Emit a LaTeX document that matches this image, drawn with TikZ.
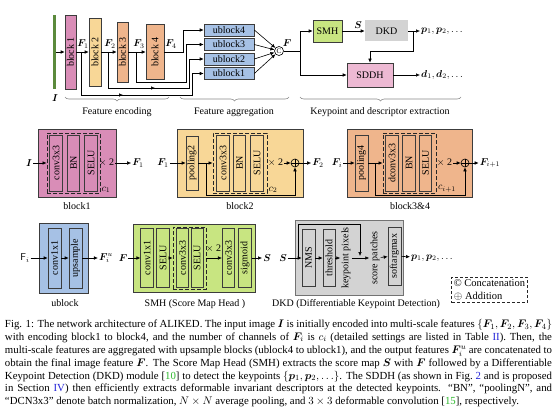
\documentclass[tikz,border=0pt]{standalone}
\usepackage{amsmath,amssymb,bm}
\usepackage{fontspec}
\setmainfont{Liberation Serif}
\usetikzlibrary{arrows.meta,positioning,calc,decorations.pathreplacing,decorations.markings}
\definecolor{edge}{HTML}{3C3C3C}
\definecolor{imggreen}{HTML}{5B8A3C}
\definecolor{pinkblk}{HTML}{D98DB7}
\definecolor{yelblk}{HTML}{F8D797}
\definecolor{orgblk}{HTML}{EFB58C}
\definecolor{ublue}{HTML}{A6C1E5}
\definecolor{smhgreen}{HTML}{C8E581}
\definecolor{dkdgray}{HTML}{D3D3D3}
\definecolor{sddhpink}{HTML}{EDB9D3}
\definecolor{bracegray}{HTML}{8A8A8A}
\definecolor{refgreen}{HTML}{2DB82D}
\definecolor{refblue}{HTML}{2424D8}
\tikzset{
  blk/.style={draw=edge, line width=.6pt, inner sep=0pt, font=\fontsize{10}{11}\selectfont},
  venc/.style={blk, rotate=90},
  ubox/.style={blk, fill=ublue, minimum width=50pt, minimum height=12pt},
  outer/.style={draw=edge, line width=.7pt, inner sep=0pt},
  layer/.style={blk, rotate=90, minimum width=56pt, minimum height=12.5pt},
  dashbox/.style={draw=black!85, dash pattern=on 4pt off 2pt, line width=.9pt, inner sep=0pt},
  arr/.style={-{Latex[length=4pt,width=3.6pt]}, line width=.6pt, draw=black},
  wire/.style={line width=.6pt, draw=black},
  midarr/.style={postaction={decorate}, decoration={markings,
      mark=at position #1 with {\arrow{Latex[length=4pt,width=3.6pt]}}}},
  lbl/.style={font=\fontsize{10}{11}\selectfont, inner sep=1pt},
  vlbl/.style={lbl, rotate=90},
  brc/.style={draw=bracegray, line width=.6pt, decorate, decoration={brace, mirror, amplitude=4pt}},
  addop/.style={circle, draw, line width=.6pt, minimum size=8pt, inner sep=0pt},
  legend/.style={draw=black!85, densely dashed, line width=.8pt, align=left,
                 font=\fontsize{10.5}{13.5}\selectfont, inner sep=2pt},
  capt/.style={text width=547pt, align=justify, inner sep=0pt,
               font=\fontsize{10.8}{12.9}\selectfont}
}

\begin{document}
\begin{tikzpicture}[x=1pt, y=-1pt]
  \useasboundingbox[fill=white] (0,0) rectangle (559,412);

  % overview: encoder, aggregation, heads
  \node[fill=imggreen, minimum width=3pt, minimum height=73pt, inner sep=0pt] (img) at (54.5,52) {};
  \node[lbl] (ilbl) at (55,98) {$\boldsymbol{I}$};
  \node[venc, fill=pinkblk, minimum width=74pt, minimum height=11pt] (blk1) at (70.5,52) {block 1};
  \node[venc, fill=yelblk, minimum width=68pt, minimum height=12pt] (blk2) at (95,52) {block 2};
  \node[venc, fill=orgblk, minimum width=60pt, minimum height=11pt] (blk3) at (122.5,52) {block 3};
  \node[venc, fill=orgblk, minimum width=55pt, minimum height=18pt] (blk4) at (155,52) {block 4};
  \node[lbl] (fa) at (83,44) {$\boldsymbol{F}_{1}$};
  \node[lbl] (fb) at (110,44) {$\boldsymbol{F}_{2}$};
  \node[lbl] (fc) at (139,44) {$\boldsymbol{F}_{3}$};
  \node[lbl] (fd) at (171,44) {$\boldsymbol{F}_{4}$};

  \node[ubox] (ub4) at (229,30) {ublock4};
  \node[ubox] (ub3) at (229,44.5) {ublock3};
  \node[ubox] (ub2) at (229,59) {ublock2};
  \node[ubox] (ub1) at (229,73.5) {ublock1};
  \node[addop, minimum size=9pt, font=\fontsize{7}{7}\selectfont] (cat) at (279,51) {C};
  \node[lbl] (flbl) at (287,43) {$\boldsymbol{F}$};
  \coordinate (fsplit) at (300,51);

  \node[blk, fill=smhgreen, minimum width=29pt, minimum height=22pt] (smh) at (327.5,31) {SMH};
  \node[blk, draw=none, fill=dkdgray, minimum width=43pt, minimum height=21pt] (dkd) at (386.5,31) {DKD};
  \node[blk, fill=sddhpink, minimum width=46pt, minimum height=24pt] (sddh) at (370,75) {SDDH};
  \node[lbl] (slbl) at (358,25) {$\boldsymbol{S}$};
  \node[lbl, anchor=west] (pout) at (420,31) {$\boldsymbol{p}_1, \boldsymbol{p}_2, \ldots$};
  \node[lbl, anchor=west] (dout) at (420,75) {$\boldsymbol{d}_1, \boldsymbol{d}_2, \ldots$};
  \coordinate (kp) at (413,31);

  \draw[arr] (img) -- (blk1);
  \draw[arr] (blk1) -- (blk2);
  \draw[arr] (blk2) -- (blk3);
  \draw[arr] (blk3) -- (blk4);
  \coordinate (f1) at (81,52);
  \coordinate (f2) at (108,52);
  \coordinate (f3) at (136,52);
  \draw[arr, midarr=85pt] (f1) |- ($(ub1.west)+(-11,21.5)$) |- (ub1.west);
  \draw[arr, midarr=83pt] (f2) |- ($(ub2.west)+(-14,29)$) |- (ub2.west);
  \draw[arr] (f3) |- ($(ub3.west)+(-17,37.5)$) |- (ub3.west);
  \draw[arr] (blk4.south) -| ($(ub4.west)+(-20,0)$) -- (ub4.west);
  \foreach \k in {1,...,4} \draw[arr] (ub\k.east) -- (cat);
  \draw[wire] (cat) -- (fsplit);
  \draw[arr] (fsplit) |- (smh);
  \draw[arr] (fsplit) |- (sddh);
  \draw[arr] (smh) -- (dkd);
  \draw[arr] (dkd) -- (pout);
  \draw[arr] (kp) |- ($(sddh.north)+(0,-11)$) -- (sddh.north);
  \draw[arr] (sddh) -- (dout);

  \draw[brc] (65,97) -- (169,97);
  \draw[brc] (180,97) -- (289,97);
  \draw[brc] (300,97) -- (461,97);
  \node[lbl] (grp1) at (117,112) {Feature encoding};
  \node[lbl] (grp2) at (234,112) {Feature aggregation};
  \node[lbl] (grp3) at (380,112) {Keypoint and descriptor extraction};

  % block1
  \node[outer, fill=pinkblk, minimum width=78pt, minimum height=68pt] (blk1d) at (77,163) {};
  \node[dashbox, minimum width=53pt, minimum height=60pt] (dsh1) at (73.5,163) {};
  \node[layer, fill=pinkblk] (cv1) at (56,163) {conv3x3};
  \node[layer, fill=pinkblk] (bn1) at (73.5,163) {BN};
  \node[layer, fill=pinkblk] (sl1) at (91,163) {SELU};
  \node[lbl] (tw1) at (106.5,163) {$\times$ 2};
  \node[lbl] (ch1) at (106,190) {$c_1$};
  \node[lbl] (in1) at (29,163) {$\boldsymbol{I}$};
  \node[lbl] (f1o) at (138,163) {$\boldsymbol{F}_1$};
  \node[lbl] (cap1) at (77,206) {block1};
  \draw[arr] (in1) -- (dsh1);
  \draw[arr] (tw1) -- (f1o);

  % block2
  \node[outer, fill=yelblk, minimum width=126pt, minimum height=68pt] (blk2d) at (240,163) {};
  \node[layer, fill=yelblk, minimum width=54pt, minimum height=12pt] (pl2) at (192,163) {pooling2};
  \node[dashbox, minimum width=54pt, minimum height=60pt] (dsh2) at (240,163) {};
  \node[layer, fill=yelblk] (cv2) at (223,163) {conv3x3};
  \node[layer, fill=yelblk] (bn2) at (239.5,163) {BN};
  \node[layer, fill=yelblk] (sl2) at (257,163) {SELU};
  \node[lbl] (tw2) at (275.5,163) {$\times$ 2};
  \node[lbl] (ch2) at (273,190) {$c_2$};
  \node[addop] (add2) at (295,163) {};
  \draw[line width=.6pt] (add2.north) -- (add2.south) (add2.west) -- (add2.east);
  \node[lbl] (in2) at (163,163) {$\boldsymbol{F}_1$};
  \node[lbl] (f2o) at (318,163) {$\boldsymbol{F}_2$};
  \node[lbl] (cap2) at (240,206) {block2};
  \coordinate (r2) at (206,163);
  \draw[arr] (in2) -- (pl2);
  \draw[arr] (pl2) -- (dsh2);
  \draw[arr] (r2) |- ($(add2)+(0,32)$) -- (add2);
  \draw[arr] (tw2) -- (add2);
  \draw[arr] (add2) -- (f2o);

  % block3&4
  \node[outer, fill=orgblk, minimum width=125pt, minimum height=68pt] (blk3d) at (409.5,163) {};
  \node[layer, fill=orgblk, minimum width=56pt, minimum height=13pt] (pl3) at (361.5,163) {pooling4};
  \node[dashbox, minimum width=53pt, minimum height=60pt] (dsh3) at (409.5,163) {};
  \node[layer, fill=orgblk] (cv3) at (392,163) {dconv3x3};
  \node[layer, fill=orgblk] (bn3) at (409,163) {BN};
  \node[layer, fill=orgblk] (sl3) at (425.5,163) {SELU};
  \node[lbl] (tw3) at (444.5,163) {$\times$ 2};
  \node[lbl] (ch3) at (447,189) {$c_{i+1}$};
  \node[addop] (add3) at (465,163) {};
  \draw[line width=.6pt] (add3.north) -- (add3.south) (add3.west) -- (add3.east);
  \node[lbl] (in3) at (337,163) {$\boldsymbol{F}_i$};
  \node[lbl] (f3o) at (490,163) {$\boldsymbol{F}_{i+1}$};
  \node[lbl] (cap3) at (410,206) {block3\&4};
  \coordinate (r3) at (375,163);
  \draw[arr] (in3) -- (pl3);
  \draw[arr] (pl3) -- (dsh3);
  \draw[arr] (r3) |- ($(add3)+(0,32)$) -- (add3);
  \draw[arr] (tw3) -- (add3);
  \draw[arr] (add3) -- (f3o);

  % ublock
  \node[outer, fill=ublue, minimum width=49pt, minimum height=70pt] (ubd) at (63.5,258) {};
  \node[layer, fill=ublue, minimum width=60pt, minimum height=13pt] (uc) at (54.5,258) {conv1x1};
  \node[layer, fill=ublue, minimum width=60pt, minimum height=13pt] (uu) at (75.5,258) {upsample};
  \node[lbl] (uin) at (25,258) {$\mathsf{F}_i$};
  \node[lbl] (uout) at (106,258) {$\boldsymbol{F}^{u}_{i}$};
  \node[lbl] (capu) at (65,303) {ublock};
  \draw[arr] (uin) -- (uc);
  \draw[arr] (uc) -- (uu);
  \draw[arr] (uu) -- (uout);

  % SMH
  \node[outer, fill=smhgreen, minimum width=122pt, minimum height=68pt] (smhd) at (194,258) {};
  \node[layer, fill=smhgreen, minimum width=59pt] (sc1) at (147,258) {conv1x1};
  \node[layer, fill=smhgreen, minimum width=59pt] (ss1) at (163,258) {SELU};
  \node[dashbox, minimum width=33pt, minimum height=62pt] (sdsh) at (189.5,258) {};
  \node[layer, fill=smhgreen, minimum width=59pt, minimum height=11.5pt] (sc2) at (182.5,258) {conv3x3};
  \node[layer, fill=smhgreen, minimum width=59pt, minimum height=12pt] (ss2) at (197,258) {SELU};
  \node[lbl] (stw) at (213.5,249) {$\times$ 2};
  \node[layer, fill=smhgreen, minimum width=59pt] (sc3) at (228.5,258) {conv3x3};
  \node[layer, fill=smhgreen, minimum width=59pt] (ssg) at (245,258) {sigmoid};
  \node[lbl] (sin) at (123,258) {$\boldsymbol{F}$};
  \node[lbl] (sout) at (267,258) {$\boldsymbol{S}$};
  \node[lbl] (caps) at (195,304) {SMH (Score Map Head )};
  \draw[arr] (sin) -- (sc1);
  \draw[arr] (ss1) -- (sdsh);
  \draw[arr] (sdsh) -- (sc3);
  \draw[arr] (ssg) -- (sout);

  % DKD
  \node[outer, draw=black!55, fill=dkdgray, minimum width=108pt, minimum height=75pt] (dkdd) at (349,258) {};
  \node[layer, fill=dkdgray, minimum width=57pt, minimum height=13pt] (nms) at (308.5,258) {NMS};
  \node[layer, fill=dkdgray, minimum width=57pt, minimum height=12pt] (thr) at (329,258) {threshold};
  \node[vlbl] (kpx) at (346,258) {keypoint pixels};
  \node[vlbl] (spt) at (375,258) {score patches};
  \node[layer, fill=dkdgray, minimum width=58pt, minimum height=13pt] (sam) at (394.5,256) {softargmax};
  \node[lbl] (din) at (283,258) {$\boldsymbol{S}$};
  \node[lbl, anchor=west] (dpo) at (410,258) {$\boldsymbol{p}_1, \boldsymbol{p}_2, \ldots$};
  \node[lbl] (capd) at (356,304) {DKD (Differentiable Keypoint Detection)};
  \coordinate (sbr) at (298,258);
  \draw[arr] (din) -- (nms);
  \draw[arr] (nms) -- (thr);
  \draw[arr] (thr) -- (kpx);
  \draw[arr] (kpx) -- (spt);
  \draw[arr] (spt) -- (sam);
  \draw[arr] (sam) -- (dpo);
  \draw[arr] (sbr) |- ($(spt)+(-15,-34)$) -- ++(0,32);

  \node[legend] (lgd) at (489.5,290) {\textcopyright\ Concatenation\\$\oplus$ Addition};

  \node[capt, anchor=north] (capt) at (278.5,319) {Fig. 1: The network architecture of ALIKED. The input image $\boldsymbol{I}$ is initially encoded into multi-scale features $\{\boldsymbol{F}_1, \boldsymbol{F}_2, \boldsymbol{F}_3, \boldsymbol{F}_4\}$\linebreak
  with encoding block1 to block4, and the number of channels of $\boldsymbol{F}_i$ is $c_i$ (detailed settings are listed in Table \textcolor{refblue}{II}). Then, the\linebreak
  multi-scale features are aggregated with upsample blocks (ublock4 to ublock1), and the output features $\boldsymbol{F}^{u}_{i}$ are concatenated to\linebreak
  obtain the final image feature $\boldsymbol{F}$. The Score Map Head (SMH) extracts the score map $\boldsymbol{S}$ with $\boldsymbol{F}$ followed by a Differentiable\linebreak
  Keypoint Detection (DKD) module [\textcolor{refgreen}{10}] to detect the keypoints $\{\boldsymbol{p}_1, \boldsymbol{p}_2, \ldots\}$. The SDDH (as shown in Fig.~\textcolor{refblue}{2} and is proposed\linebreak
  in Section \textcolor{refblue}{IV}) then efficiently extracts deformable invariant descriptors at the detected keypoints. ``BN'', ``poolingN'', and\linebreak
  ``DCN3x3'' denote batch normalization, $N \times N$ average pooling, and $3 \times 3$ deformable convolution [\textcolor{refgreen}{15}], respectively.};
\end{tikzpicture}
\end{document}
